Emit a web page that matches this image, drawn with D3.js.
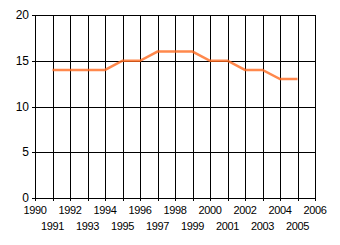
<!DOCTYPE html>
<html><head><meta charset="utf-8">
<script src="https://cdn.jsdelivr.net/npm/d3@7"></script>
<style>html,body{margin:0;padding:0;background:#fff;}svg{display:block;}
text{font-family:"Liberation Sans",Arial,sans-serif;font-size:11px;fill:#000;}</style>
</head><body><svg id="c" width="340" height="245"></svg>
<script>
const years = [1991,1992,1993,1994,1995,1996,1997,1998,1999,2000,2001,2002,2003,2004,2005];
const values = [14,14,14,14,15,15,16,16,16,15,15,14,14,13,13];
const xTicks = d3.range(1990, 2007);
const yTicks = [0,5,10,15,20];

const svg = d3.select("#c");
const x = d3.scaleLinear().domain([1990,2006]).range([35,315]);
const y = d3.scaleLinear().domain([0,20]).range([198,15]);

// grid
svg.append("g").selectAll("line").data(xTicks).join("line")
  .attr("x1", d=>Math.round(x(d))+0.5).attr("x2", d=>Math.round(x(d))+0.5)
  .attr("y1", y(20)).attr("y2", y(0)+3).attr("stroke","#000").attr("stroke-width",1);
svg.append("g").selectAll("line").data(yTicks).join("line")
  .attr("y1", d=>Math.round(y(d))+0.5).attr("y2", d=>Math.round(y(d))+0.5)
  .attr("x1", x(1990)-3).attr("x2", x(2006)).attr("stroke","#000").attr("stroke-width",1);

// y labels
svg.append("g").selectAll("text").data(yTicks).join("text")
  .attr("x", 29).attr("y", d=>y(d)+4).attr("text-anchor","end").style("font-size","12px").text(d=>d);

// x labels staggered
svg.append("g").selectAll("text").data(xTicks).join("text")
  .attr("x", d=>x(d)).attr("y", d=> d%2===0 ? 214 : 230)
  .attr("text-anchor","middle").style("letter-spacing","-0.4px").text(d=>d);

// line
svg.append("path").datum(years.map((d,i)=>[d,values[i]]))
  .attr("d", d3.line().x(d=>x(d[0])).y(d=>y(d[1])))
  .attr("fill","none").attr("stroke","#FF6A1F").attr("stroke-opacity",0.8)
  .attr("stroke-width",2.5);
</script></body></html>
